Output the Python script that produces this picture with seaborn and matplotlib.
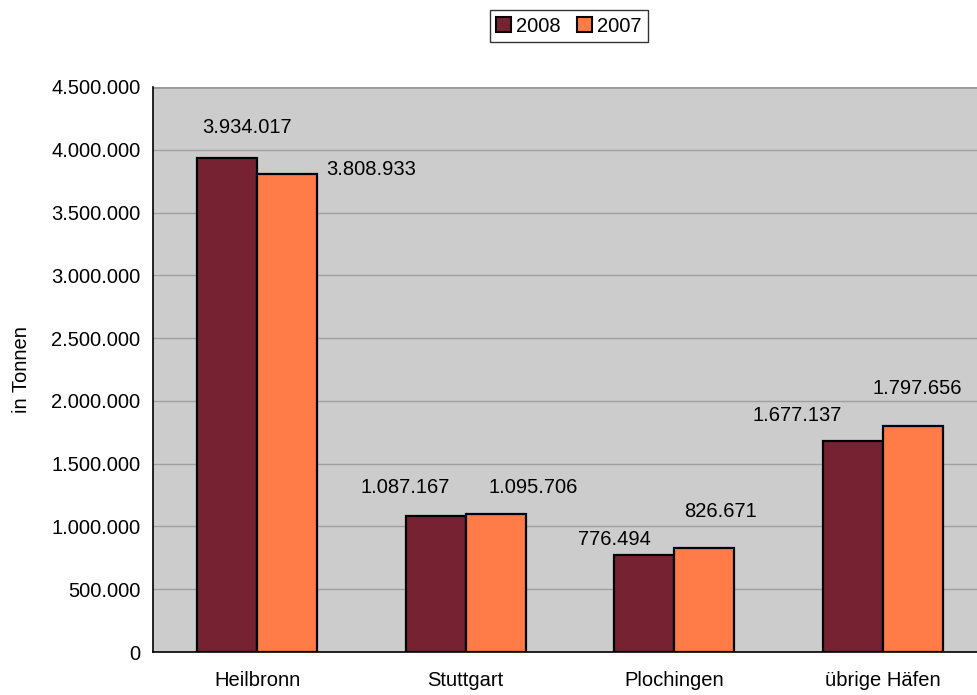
import matplotlib
matplotlib.use("Agg")
import matplotlib.pyplot as plt
import matplotlib.ticker as mticker
from matplotlib.patches import Patch
import pandas as pd
import seaborn as sns

# Umschlag der Häfen in Tonnen
ports = ["Heilbronn", "Stuttgart", "Plochingen", "übrige Häfen"]
years = ["2008", "2007"]
values_2008 = [3934017, 1087167, 776494, 1677137]
values_2007 = [3808933, 1095706, 826671, 1797656]
y_ticks = [0, 500000, 1000000, 1500000, 2000000, 2500000, 3000000, 3500000, 4000000, 4500000]

colors = {"2008": "#772233", "2007": "#FF7B48"}

# label offsets (pixels) from each bar's top centre
label_offsets_2008 = [(20, 31), (-31, 28), (-30, 15), (-56, 26)]
label_offsets_2007 = [(84, 4), (37, 27), (16, 37), (4, 38)]

FS = 14.5

df = pd.DataFrame({
    "Hafen": ports * 2,
    "Jahr": ["2008"] * len(ports) + ["2007"] * len(ports),
    "Tonnen": values_2008 + values_2007,
})

sns.set_style("white")
plt.rcParams["font.family"] = ["Liberation Sans", "DejaVu Sans"]
plt.rcParams["text.color"] = "black"
plt.rcParams["axes.labelcolor"] = "black"
plt.rcParams["xtick.color"] = "black"
plt.rcParams["ytick.color"] = "black"

fig = plt.figure(figsize=(9.78, 6.95), dpi=100)
ax = fig.add_axes([153 / 978, 1 - 652 / 695, 834 / 978, (652 - 87) / 695])
ax.set_facecolor("#CCCCCC")

sns.barplot(data=df, x="Hafen", y="Tonnen", hue="Jahr", hue_order=years,
            palette=colors, width=0.576, gap=0, edgecolor="black",
            linewidth=1.6, saturation=1, ax=ax, legend=False, zorder=3)

ax.set_xlim(-0.5, 3.5)
ax.set_ylim(0, 4500000)
ax.set_yticks(y_ticks)
ax.yaxis.set_major_formatter(mticker.FuncFormatter(lambda v, p: f"{int(v):,}".replace(",", ".")))
ax.yaxis.grid(True, color="#A0A0A0", linewidth=1.0, zorder=0)
ax.set_axisbelow(True)

ax.set_xticks(range(len(ports)))
ax.set_xticklabels(ports)
ax.set_xticks([i + 0.5 for i in range(-1, len(ports))], minor=True)
ax.tick_params(axis="x", which="major", length=0, pad=14, labelsize=FS, labelcolor="black")
ax.tick_params(axis="x", which="minor", length=5, width=1, color="#555555", direction="out")
ax.tick_params(axis="y", length=5, width=1, color="#555555", direction="out",
               labelsize=FS, pad=4, labelcolor="black")
ax.set_xlabel("")
ax.set_ylabel("in Tonnen", fontsize=FS, color="black")
ax.yaxis.set_label_coords((31 - 153) / 834, 0.5)

for side in ["top", "right"]:
    ax.spines[side].set_visible(False)
ax.spines["left"].set_color("black")
ax.spines["bottom"].set_color("black")
ax.spines["left"].set_linewidth(1.2)
ax.spines["bottom"].set_linewidth(1.2)
ax.axhline(4500000, color="#999999", linewidth=2, zorder=1)

def fmt(v):
    return f"{v:,}".replace(",", ".")

containers = ax.containers
for container, vals, offs in [(containers[0], values_2008, label_offsets_2008),
                              (containers[1], values_2007, label_offsets_2007)]:
    for bar, v, (dx, dy) in zip(container, vals, offs):
        cx = bar.get_x() + bar.get_width() / 2
        ax.annotate(fmt(v), xy=(cx, v), xytext=(dx, dy), textcoords="offset pixels",
                    ha="center", va="center", fontsize=FS, color="black", zorder=5)

handles = [Patch(facecolor=colors[y], edgecolor="black", linewidth=1.5, label=y) for y in years]
leg = fig.legend(handles=handles, loc="center", bbox_to_anchor=(569 / 978, 1 - 26 / 695),
                 ncol=2, frameon=True, fancybox=False, fontsize=FS,
                 handlelength=0.75, handleheight=0.75, handletextpad=0.25,
                 columnspacing=0.8, borderpad=0.3, borderaxespad=0, labelcolor="black")
leg.get_frame().set_edgecolor("black")
leg.get_frame().set_linewidth(1.0)

fig.savefig("out.png", dpi=100)
